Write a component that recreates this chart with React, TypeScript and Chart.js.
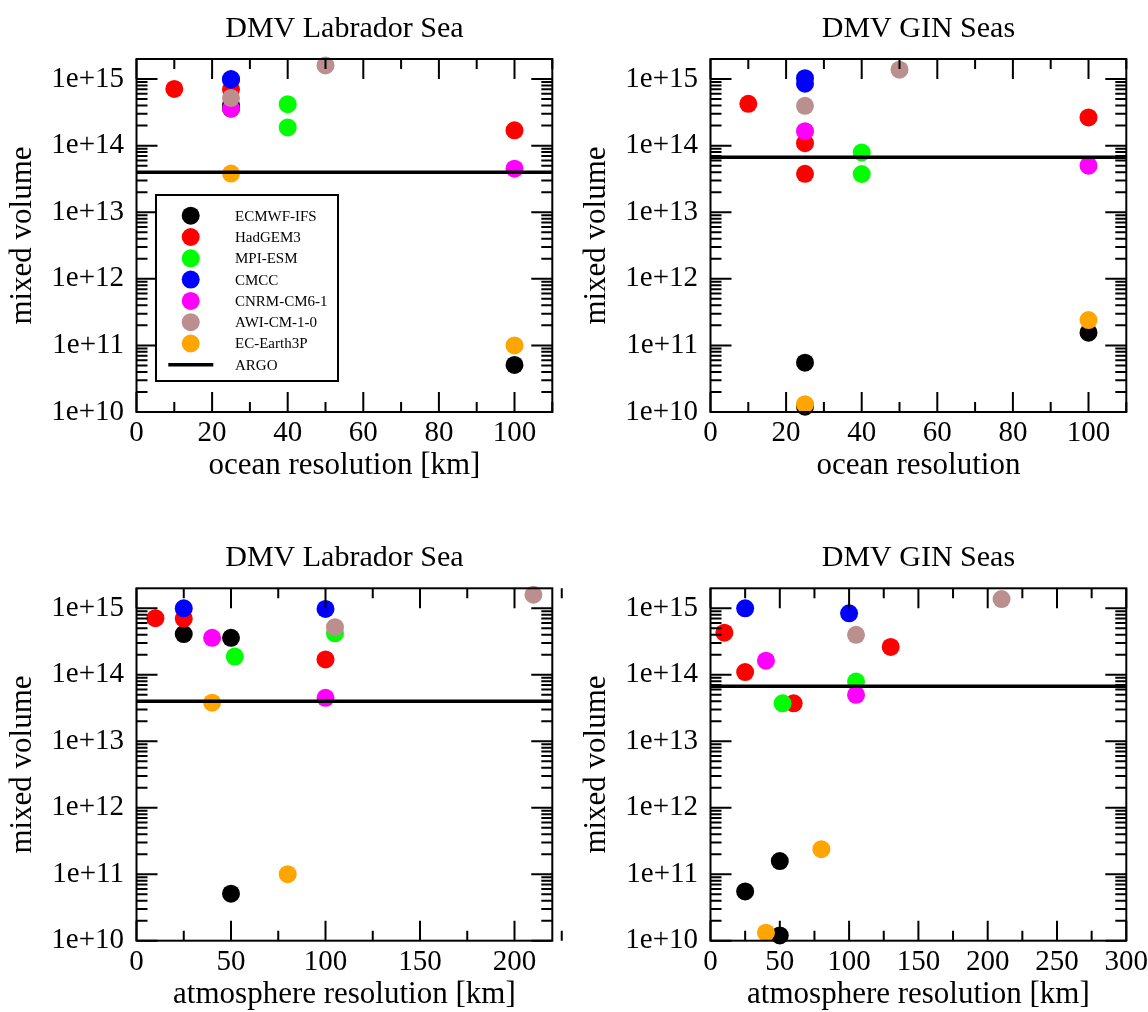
import React, { useEffect, useRef } from 'react';
import { Chart, registerables } from 'chart.js';

Chart.register(...registerables);
Chart.defaults.font.family = "'Liberation Serif', 'Times New Roman', serif";

// ---------- data ----------
const MODELS = ['ECMWF-IFS', 'HadGEM3', 'MPI-ESM', 'CMCC', 'CNRM-CM6-1', 'AWI-CM-1-0', 'EC-Earth3P'];
const COLORS = ['#000000', '#ff0000', '#00ff00', '#0000ff', '#ff00ff', '#bc8f8f', '#ffa500'];

const Y_TICKS = [1e10, 1e11, 1e12, 1e13, 1e14, 1e15];
const Y_MIN = 1e10;
const Y_MAX = 2e15;

const X_TICKS_OCEAN = [0, 20, 40, 60, 80, 100];
const X_TICKS_ATM_LAB = [0, 50, 100, 150, 200];
const X_TICKS_ATM_GIN = [0, 50, 100, 150, 200, 250, 300];

const ARGO_LAB = 4.0e13;
const ARGO_GIN = 6.7e13;

// Labrador Sea, ocean resolution [km] (one row per model, legend order)
const labOceanRes = [
  [25, 25, 100],
  [10, 25, 100],
  [40, 40],
  [25, 25],
  [25, 100],
  [25, 50],
  [25, 100],
];
const labOceanDmv = [
  [4.1e14, 3.6e14, 5.1e10],
  [7.1e14, 7.0e14, 1.7e14],
  [4.2e14, 1.88e14],
  [1.0e15, 0.98e15],
  [3.6e14, 4.5e13],
  [5.2e14, 1.6e15],
  [3.8e13, 1.0e11],
];

// GIN Seas, ocean resolution
const ginOceanRes = [
  [25, 25, 100],
  [10, 25, 25, 100],
  [40, 40],
  [25, 25],
  [25, 100],
  [25, 50],
  [25, 100],
];
const ginOceanDmv = [
  [5.5e10, 1.2e10, 1.55e11],
  [4.25e14, 1.09e14, 3.77e13, 2.65e14],
  [7.9e13, 3.75e13],
  [1.03e15, 8.5e14],
  [1.65e14, 5.0e13],
  [3.97e14, 1.38e15],
  [1.31e10, 2.4e11],
];

// Labrador Sea, atmosphere resolution [km]
const labAtmRes = [
  [25, 50, 50],
  [10, 25, 100],
  [105, 52],
  [25, 100],
  [40, 100],
  [105, 210],
  [40, 80],
];
const labAtmDmv = [
  [4.1e14, 3.6e14, 5.1e10],
  [7.1e14, 7.0e14, 1.7e14],
  [4.2e14, 1.88e14],
  [1.0e15, 0.98e15],
  [3.6e14, 4.5e13],
  [5.2e14, 1.6e15],
  [3.8e13, 1.0e11],
];

// GIN Seas, atmosphere resolution [km]
const ginAtmRes = [
  [25, 50, 50],
  [10, 25, 60, 130],
  [105, 52],
  [25, 100],
  [40, 105],
  [105, 210],
  [40, 80],
];
const ginAtmDmv = [
  [5.5e10, 1.58e11, 1.2e10],
  [4.3e14, 1.1e14, 3.73e13, 2.62e14],
  [7.9e13, 3.73e13],
  [1.0e15, 8.4e14],
  [1.63e14, 5.0e13],
  [4.0e14, 1.38e15],
  [1.32e10, 2.38e11],
];

// ---------- layout ----------
type PanelCfg = {
  title: string;
  xTitle: string;
  xMax: number;
  xTicks: number[];
  xMinor: number;
  xs: number[][];
  ys: number[][];
  argo: number;
  legend: boolean;
  left: number;
  top: number;
  height: number;
  padTop: number;
  axisH: number;
  xTitlePad: number;
};

const CANVAS_W = 574;
const Y_AXIS_W = 136.5;
const PAD_RIGHT = 21.7;

const PANELS: PanelCfg[] = [
  {
    title: 'DMV Labrador Sea', xTitle: 'ocean resolution [km]', xMax: 110, xTicks: X_TICKS_OCEAN, xMinor: 10,
    xs: labOceanRes, ys: labOceanDmv, argo: ARGO_LAB, legend: true,
    left: 0, top: 0, height: 500, padTop: 59, axisH: 88, xTitlePad: 19,
  },
  {
    title: 'DMV GIN Seas', xTitle: 'ocean resolution', xMax: 110, xTicks: X_TICKS_OCEAN, xMinor: 10,
    xs: ginOceanRes, ys: ginOceanDmv, argo: ARGO_GIN, legend: false,
    left: 574, top: 0, height: 500, padTop: 59, axisH: 88, xTitlePad: 19,
  },
  {
    title: 'DMV Labrador Sea', xTitle: 'atmosphere resolution [km]', xMax: 220, xTicks: X_TICKS_ATM_LAB, xMinor: 25,
    xs: labAtmRes, ys: labAtmDmv, argo: ARGO_LAB, legend: false,
    left: 0, top: 500, height: 512, padTop: 88.3, axisH: 71.3, xTitlePad: 2,
  },
  {
    title: 'DMV GIN Seas', xTitle: 'atmosphere resolution [km]', xMax: 300, xTicks: X_TICKS_ATM_GIN, xMinor: 25,
    xs: ginAtmRes, ys: ginAtmDmv, argo: ARGO_GIN, legend: false,
    left: 574, top: 500, height: 512, padTop: 88.3, axisH: 71.3, xTitlePad: 2,
  },
];

const FONT = "'Liberation Serif', 'Times New Roman', serif";

const framePlugin = {
  id: 'frameTicks',
  afterDatasetsDraw(chart: any, _args: any, opts: any) {
    const p: PanelCfg = opts.panel;
    const { ctx, chartArea: a } = chart;
    const xs = chart.scales.x;
    const ys = chart.scales.y;
    ctx.save();
    ctx.strokeStyle = '#000';
    ctx.lineWidth = 2;
    ctx.beginPath();
    const nMinor = Math.round(p.xMax / p.xMinor);
    const majorStep = p.xTicks[1] - p.xTicks[0];
    for (let i = 0; i <= nMinor; i++) {
      const v = i * p.xMinor;
      const px = xs.getPixelForValue(v);
      const isMajor = Math.abs(v / majorStep - Math.round(v / majorStep)) < 1e-6;
      const len = isMajor ? 20 : 10;
      ctx.moveTo(px, a.bottom);
      ctx.lineTo(px, a.bottom - len);
      ctx.moveTo(px, a.top);
      ctx.lineTo(px, a.top + len);
    }
    for (const dec of Y_TICKS) {
      for (let k = 1; k <= 9; k++) {
        const v = k * dec;
        if (v >= Y_MAX) continue;
        const py = ys.getPixelForValue(v);
        const len = k === 1 ? 21 : 11;
        ctx.moveTo(a.left, py);
        ctx.lineTo(a.left + len, py);
        ctx.moveTo(a.right, py);
        ctx.lineTo(a.right - len, py);
      }
    }
    ctx.stroke();
    ctx.strokeRect(a.left, a.top, a.right - a.left, a.bottom - a.top);

    // title
    ctx.fillStyle = '#000';
    ctx.font = `30px ${FONT}`;
    ctx.textAlign = 'center';
    ctx.textBaseline = 'alphabetic';
    ctx.fillText(p.title, (a.left + a.right) / 2, a.top - 22.5);

    // legend
    if (p.legend) {
      const bx = a.left + 19.5;
      const by = a.top + 136;
      ctx.fillStyle = '#fff';
      ctx.fillRect(bx, by, 182, 186);
      ctx.lineWidth = 2;
      ctx.strokeRect(bx, by, 182, 186);
      ctx.font = `15px ${FONT}`;
      ctx.textAlign = 'left';
      ctx.textBaseline = 'middle';
      const rowH = 21.3;
      const names = [...MODELS, 'ARGO'];
      names.forEach((name, i) => {
        const cy = a.top + 156.7 + i * rowH;
        if (i < MODELS.length) {
          ctx.fillStyle = COLORS[i];
          ctx.beginPath();
          ctx.arc(a.left + 54.2, cy, 9, 0, Math.PI * 2);
          ctx.fill();
        } else {
          ctx.strokeStyle = '#000';
          ctx.lineWidth = 3.5;
          ctx.beginPath();
          ctx.moveTo(a.left + 31.8, cy);
          ctx.lineTo(a.left + 76.8, cy);
          ctx.stroke();
        }
        ctx.fillStyle = '#000';
        ctx.fillText(name, a.left + 98.5, cy + 1);
      });
    }
    ctx.restore();
  },
};

function makeChart(canvas: HTMLCanvasElement, p: PanelCfg) {
  const datasets: any[] = MODELS.map((m, i) => ({
    type: 'scatter',
    label: m,
    data: p.xs[i].map((x, j) => ({ x, y: p.ys[i][j] })),
    backgroundColor: COLORS[i],
    borderColor: COLORS[i],
    borderWidth: 0,
    pointRadius: 9,
    pointHoverRadius: 9,
    order: MODELS.length - i,
    clip: false,
  }));
  datasets.push({
    type: 'line',
    label: 'ARGO',
    data: [{ x: 0, y: p.argo }, { x: p.xMax, y: p.argo }],
    borderColor: '#000',
    backgroundColor: '#000',
    borderWidth: 3.5,
    pointRadius: 0,
    fill: false,
    order: 0,
  });

  return new Chart(canvas, {
    type: 'scatter',
    data: { datasets },
    plugins: [framePlugin],
    options: {
      animation: false,
      responsive: false,
      events: [],
      layout: { padding: { top: p.padTop, left: 0, right: PAD_RIGHT, bottom: 0 } },
      plugins: {
        legend: { display: false },
        tooltip: { enabled: false },
        frameTicks: { panel: p },
      } as any,
      scales: {
        x: {
          type: 'linear',
          min: 0,
          max: p.xMax,
          grid: { display: false, drawTicks: false },
          border: { display: false },
          ticks: {
            color: '#000',
            font: { size: 29, lineHeight: 1 },
            padding: 7,
            maxRotation: 0,
            autoSkip: false,
          },
          title: {
            display: true,
            text: p.xTitle,
            color: '#000',
            font: { size: 31, lineHeight: 1 },
            padding: { top: 0, bottom: p.xTitlePad },
          },
          afterBuildTicks: (s: any) => {
            s.ticks = p.xTicks.map((v) => ({ value: v }));
          },
          afterFit: (s: any) => {
            s.height = p.axisH;
            s.paddingLeft = 0;
            s.paddingRight = 0;
          },
        },
        y: {
          type: 'logarithmic',
          min: Y_MIN,
          max: Y_MAX,
          grid: { display: false, drawTicks: false },
          border: { display: false },
          ticks: {
            color: '#000',
            font: { size: 29, lineHeight: 1 },
            padding: 12.5,
            autoSkip: false,
            callback: (v: any) => '1e+' + Math.round(Math.log10(Number(v))),
          },
          title: {
            display: true,
            text: 'mixed volume',
            color: '#000',
            font: { size: 31, lineHeight: 1 },
            padding: { top: 7.3, bottom: 0 },
          },
          afterBuildTicks: (s: any) => {
            s.ticks = Y_TICKS.map((v) => ({ value: v }));
          },
          afterFit: (s: any) => {
            s.width = Y_AXIS_W;
            s.paddingTop = 0;
            s.paddingBottom = 0;
          },
        },
      },
    } as any,
  });
}

function Panel({ p }: { p: PanelCfg }) {
  const ref = useRef<HTMLCanvasElement | null>(null);
  useEffect(() => {
    if (!ref.current) return;
    const chart = makeChart(ref.current, p);
    return () => chart.destroy();
  }, [p]);
  return (
    <canvas
      ref={ref}
      width={CANVAS_W}
      height={p.height}
      style={{ position: 'absolute', left: p.left, top: p.top, width: CANVAS_W, height: p.height }}
    />
  );
}

export default function App() {
  useEffect(() => {
    document.body.style.margin = '0';
    document.body.style.background = '#fff';
  }, []);
  return (
    <div style={{ position: 'relative', width: 1148, height: 1012, background: '#fff', overflow: 'hidden' }}>
      {PANELS.map((p, i) => (
        <Panel key={i} p={p} />
      ))}
    </div>
  );
}
